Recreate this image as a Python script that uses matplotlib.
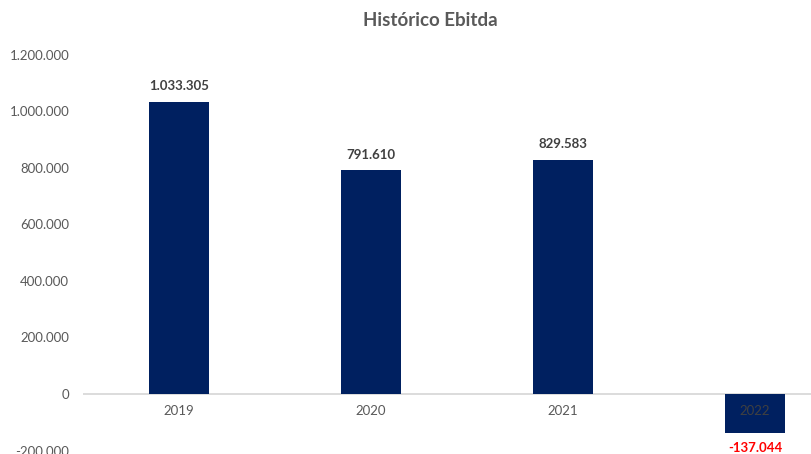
import numpy as np
import matplotlib
matplotlib.use('Agg')
import matplotlib.pyplot as plt

plt.rcParams['font.family'] = ['Lato', 'DejaVu Sans']

anos = ['2019', '2020', '2021', '2022']
ebitda = [1033305, 791610, 829583, -137044]
y_ticks = [-200000, 0, 200000, 400000, 600000, 800000, 1000000, 1200000]


def fmt_br(v):
    return f'{v:,.0f}'.replace(',', '.')


gris = '#595959'
azul = '#002060'

fig = plt.figure(figsize=(8.12, 4.54), dpi=100)
# el gráfico original está recortado por la derecha
ax = fig.add_axes([83 / 812, 1 - 450.5 / 454, (851 - 83) / 812, (450.5 - 55) / 454])

x = np.arange(len(anos))
ax.bar(x, ebitda, width=0.31, color=azul, zorder=2)
ax.axhline(0, color='#d9d9d9', linewidth=1.3, zorder=1)

ax.set_xlim(-0.5, 3.5)
ax.set_ylim(-200000, 1200000)
ax.set_yticks(y_ticks)
ax.set_yticklabels([fmt_br(t) for t in y_ticks], color=gris, fontsize=9.5)
ax.tick_params(axis='y', length=0, pad=10)
ax.set_xticks([])

for s in ax.spines.values():
    s.set_visible(False)

for xi, (a, v) in enumerate(zip(anos, ebitda)):
    ax.annotate(a, (xi, 0), xytext=(0, -8), textcoords='offset points',
                ha='center', va='top', fontsize=9.5,
                color=gris if v >= 0 else '#404040', zorder=3)
    if v >= 0:
        ax.annotate(fmt_br(v), (xi, v), xytext=(0, 7), textcoords='offset points',
                    ha='center', va='bottom', fontsize=9.5, fontweight='bold', color='#404040')
    else:
        ax.annotate(fmt_br(v), (xi, v), xytext=(0, -7), textcoords='offset points',
                    ha='center', va='top', fontsize=9.5, fontweight='bold', color='#ff0000')

fig.text(430 / 812, 1 - 20 / 454, 'Histórico Ebitda', ha='center', va='center',
         fontsize=13.5, fontweight='bold', color=gris)

fig.savefig('out.png', dpi=100)
